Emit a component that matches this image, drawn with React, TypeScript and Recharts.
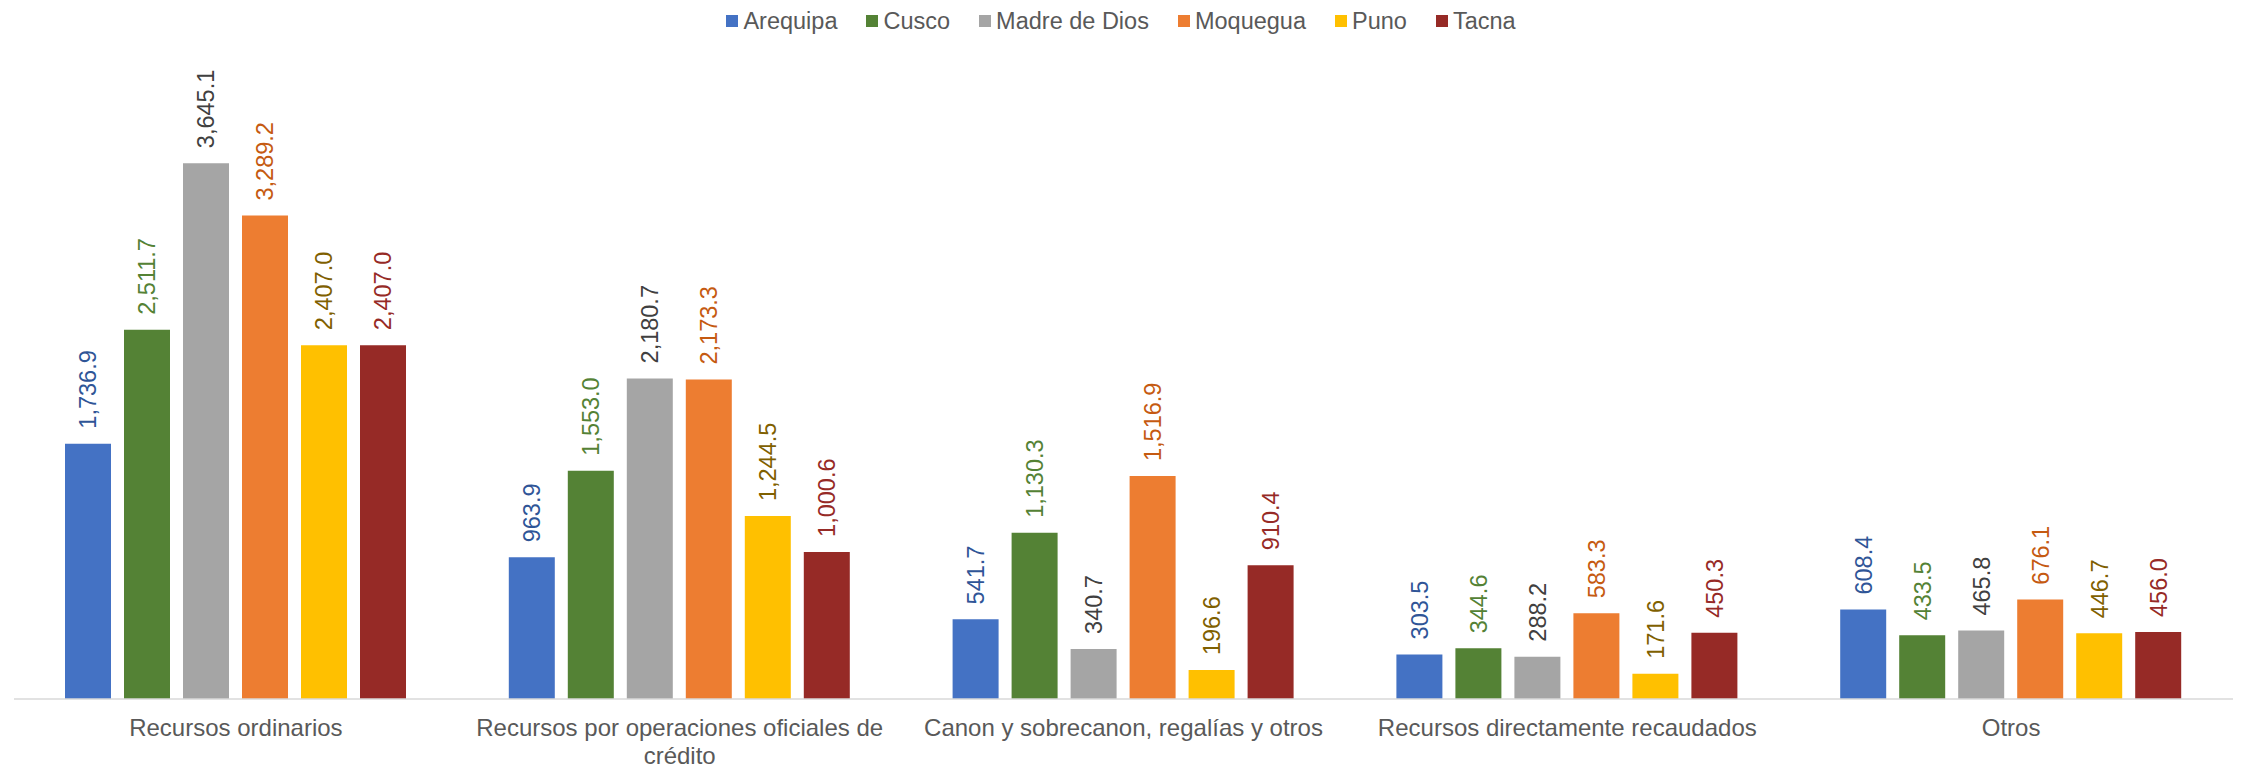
import React from 'react';
import { BarChart, Bar, XAxis, YAxis, LabelList } from 'recharts';

const categories = [
  'Recursos ordinarios',
  'Recursos por operaciones oficiales de crédito',
  'Canon y sobrecanon, regalías y otros',
  'Recursos directamente recaudados',
  'Otros',
];

const seriesNames = ['Arequipa', 'Cusco', 'Madre de Dios', 'Moquegua', 'Puno', 'Tacna'];
const arequipa = [1736.9, 963.9, 541.7, 303.5, 608.4];
const cusco = [2511.7, 1553.0, 1130.3, 344.6, 433.5];
const madreDeDios = [3645.1, 2180.7, 340.7, 288.2, 465.8];
const moquegua = [3289.2, 2173.3, 1516.9, 583.3, 676.1];
const puno = [2407.0, 1244.5, 196.6, 171.6, 446.7];
const tacna = [2407.0, 1000.6, 910.4, 450.3, 456.0];

const seriesValues = [arequipa, cusco, madreDeDios, moquegua, puno, tacna];
const barColors = ['#4472C4', '#548235', '#A5A5A5', '#ED7D31', '#FFC000', '#962A26'];
const labelColors = ['#2F5597', '#548235', '#404040', '#C55A11', '#7F6000', '#962A26'];

const FONT = '"Liberation Sans", Arial, sans-serif';
const TEXT_GRAY = '#595959';

const data = categories.map((c, i) => {
  const row: Record<string, string | number> = { category: c };
  seriesNames.forEach((s, j) => {
    row[s] = seriesValues[j][i];
  });
  return row;
});

const fmt = (v: number) =>
  v.toLocaleString('en-US', { minimumFractionDigits: 1, maximumFractionDigits: 1 });

let measureCtx: CanvasRenderingContext2D | null = null;
const measure = (s: string, font: string) => {
  if (!measureCtx && typeof document !== 'undefined') {
    measureCtx = document.createElement('canvas').getContext('2d');
  }
  if (!measureCtx) return s.length * 12;
  measureCtx.font = font;
  return measureCtx.measureText(s).width;
};

const wrapText = (s: string, maxWidth: number, font: string) => {
  const words = s.split(' ');
  const lines: string[] = [];
  let cur = '';
  words.forEach((w) => {
    const test = cur ? cur + ' ' + w : w;
    if (cur && measure(test, font) > maxWidth) {
      lines.push(cur);
      cur = w;
    } else {
      cur = test;
    }
  });
  if (cur) lines.push(cur);
  return lines;
};

const makeLabel = (color: string) => (props: any) => {
  const { x, y, width, value } = props;
  const cx = Number(x) + Number(width) / 2;
  const ty = Number(y) - 15;
  return (
    <text
      x={cx}
      y={ty}
      dy="0.36em"
      transform={`rotate(-90, ${cx}, ${ty})`}
      textAnchor="start"
      fill={color}
      fontSize={23.5}
      fontFamily={FONT}
    >
      {fmt(Number(value))}
    </text>
  );
};

const CategoryTick = (props: any) => {
  const { x, payload } = props;
  const lines = wrapText(String(payload.value), 410, `24px ${FONT}`);
  return (
    <text
      x={x}
      y={736}
      textAnchor="middle"
      fill={TEXT_GRAY}
      fontSize={24}
      fontFamily={FONT}
    >
      {lines.map((ln, i) => (
        <tspan key={i} x={x} dy={i === 0 ? 0 : 27.5}>
          {ln}
        </tspan>
      ))}
    </text>
  );
};

const LegendBar = () => (
  <div
    style={{
      position: 'absolute',
      left: 0,
      top: 7,
      width: 2242,
      display: 'flex',
      justifyContent: 'center',
      alignItems: 'center',
      fontFamily: FONT,
      fontSize: 23.5,
      color: TEXT_GRAY,
      lineHeight: '28px',
    }}
  >
    {seriesNames.map((s, i) => (
      <div
        key={s}
        style={{
          display: 'flex',
          alignItems: 'center',
          marginLeft: i === 0 ? 0 : 29,
        }}
      >
        <span
          style={{
            display: 'inline-block',
            width: 12,
            height: 12,
            background: barColors[i],
            marginRight: 5,
          }}
        />
        <span>{s}</span>
      </div>
    ))}
  </div>
);

export default function App() {
  return (
    <div
      style={{
        position: 'absolute',
        left: 0,
        top: 0,
        width: 2242,
        height: 769,
        background: '#ffffff',
      }}
    >
      <BarChart
        width={2242}
        height={769}
        data={data}
        margin={{ top: 111, right: 9, left: 14, bottom: 10 }}
        barGap={13}
        barCategoryGap={51}
      >
        <XAxis
          dataKey="category"
          height={60}
          tickLine={false}
          tickSize={0}
          tickMargin={0}
          axisLine={{ stroke: '#D9D9D9', strokeWidth: 1.5 }}
          tick={<CategoryTick />}
          interval={0}
        />
        <YAxis hide domain={[0, 4000]} />
        {seriesNames.map((s, i) => (
          <Bar key={s} dataKey={s} fill={barColors[i]} isAnimationActive={false}>
            <LabelList dataKey={s} content={makeLabel(labelColors[i])} />
          </Bar>
        ))}
      </BarChart>
      <LegendBar />
    </div>
  );
}
